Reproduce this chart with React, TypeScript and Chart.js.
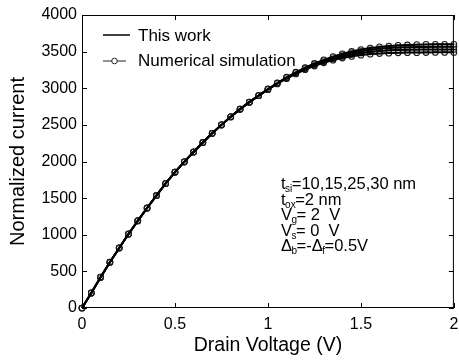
import React, { useEffect, useRef } from "react";
import { Chart, registerables } from "chart.js";

Chart.register(...registerables);

const voltages = [
  0, 0.05, 0.1, 0.15, 0.2, 0.25, 0.3, 0.35, 0.4, 0.45, 0.5, 0.55, 0.6, 0.65, 0.7, 0.75, 0.8, 0.85, 0.9, 0.95,
  1.0, 1.05, 1.1, 1.15, 1.2, 1.25, 1.3, 1.35, 1.4, 1.45, 1.5, 1.55, 1.6, 1.65, 1.7, 1.75, 1.8, 1.85, 1.9, 1.95, 2.0,
];

const model30 = [
  0, 205, 420, 625, 820, 1010, 1190, 1365, 1535, 1700, 1855, 1995, 2130, 2260, 2385, 2500, 2610, 2715, 2810, 2900,
  2990, 3072, 3150, 3218, 3280, 3338, 3388, 3432, 3470, 3502, 3528, 3548, 3564, 3576, 3585, 3591, 3595, 3598, 3599, 3600, 3600,
];
const model25 = [
  0, 205, 420, 625, 820, 1010, 1190, 1365, 1535, 1700, 1855, 1995, 2130, 2260, 2385, 2500, 2610, 2715, 2810, 2900,
  2988, 3068, 3145, 3212, 3273, 3328, 3376, 3418, 3454, 3484, 3508, 3527, 3541, 3551, 3557, 3561, 3563, 3564, 3565, 3565, 3565,
];
const model15 = [
  0, 205, 420, 625, 820, 1010, 1190, 1365, 1535, 1700, 1855, 1995, 2130, 2260, 2385, 2500, 2610, 2715, 2810, 2900,
  2985, 3065, 3140, 3205, 3265, 3318, 3364, 3403, 3436, 3462, 3482, 3498, 3510, 3518, 3523, 3526, 3528, 3529, 3530, 3530, 3530,
];
const model10 = [
  0, 205, 420, 625, 820, 1010, 1190, 1365, 1535, 1700, 1855, 1995, 2130, 2260, 2385, 2500, 2610, 2715, 2810, 2900,
  2982, 3060, 3133, 3197, 3255, 3305, 3349, 3385, 3414, 3437, 3454, 3466, 3475, 3481, 3485, 3487, 3488, 3489, 3490, 3490, 3490,
];

const sim30 = [
  0, 207, 422, 626, 821, 1011, 1192, 1366, 1536, 1701, 1856, 1996, 2131, 2261, 2386, 2501, 2611, 2716, 2811, 2901,
  2991, 3073, 3151, 3219, 3281, 3339, 3389, 3433, 3471, 3503, 3529, 3549, 3565, 3577, 3586, 3592, 3596, 3599, 3600, 3601, 3601,
];
const sim25 = [
  0, 206, 421, 625, 820, 1010, 1191, 1365, 1535, 1700, 1855, 1995, 2130, 2260, 2385, 2500, 2610, 2715, 2810, 2900,
  2988, 3069, 3146, 3213, 3274, 3329, 3377, 3419, 3455, 3485, 3509, 3528, 3542, 3552, 3558, 3562, 3564, 3565, 3566, 3566, 3566,
];
const sim15 = [
  0, 204, 419, 624, 819, 1009, 1189, 1364, 1534, 1699, 1854, 1994, 2129, 2259, 2384, 2499, 2609, 2714, 2809, 2899,
  2984, 3064, 3139, 3204, 3264, 3317, 3363, 3402, 3435, 3461, 3481, 3497, 3509, 3517, 3522, 3525, 3527, 3528, 3529, 3529, 3529,
];
const sim10 = [
  0, 203, 418, 623, 818, 1008, 1188, 1363, 1533, 1698, 1853, 1993, 2128, 2258, 2383, 2498, 2608, 2713, 2808, 2898,
  2980, 3058, 3131, 3195, 3253, 3303, 3347, 3383, 3412, 3435, 3452, 3464, 3473, 3479, 3483, 3485, 3486, 3487, 3488, 3488, 3488,
];

const modelSeries = [model30, model25, model15, model10];
const simSeries = [sim30, sim25, sim15, sim10];

const legendLabels = ["This work", "Numerical simulation"];
const xTitle = "Drain Voltage (V)";
const yTitle = "Normalized current";

// annotation lines: [text, isSubscript]
const noteLines: [string, boolean][][] = [
  [["t", false], ["si", true], ["=10,15,25,30 nm", false]],
  [["t", false], ["ox", true], ["=2 nm", false]],
  [["V", false], ["g", true], ["= 2  V", false]],
  [["V", false], ["s", true], ["= 0  V", false]],
  [["Δ", false], ["b", true], ["=-Δ", false], ["f", true], ["=0.5V", false]],
];

const FONT = '"Liberation Sans", Arial, Helvetica, sans-serif';

const framePlugin = {
  id: "frame",
  afterDraw(chart: any) {
    const { ctx, chartArea, scales } = chart;
    const { left, right, top, bottom } = chartArea;
    ctx.save();
    ctx.strokeStyle = "#000";
    ctx.lineWidth = 1;
    ctx.strokeRect(left + 0.5, top + 0.5, right - left - 1, bottom - top - 1);
    const tl = 5;
    ctx.beginPath();
    scales.x.ticks.forEach((t: any) => {
      const px = Math.round(scales.x.getPixelForValue(t.value)) + 0.5;
      ctx.moveTo(px, bottom);
      ctx.lineTo(px, bottom - tl);
      ctx.moveTo(px, top);
      ctx.lineTo(px, top + tl);
    });
    scales.y.ticks.forEach((t: any) => {
      const py = Math.round(scales.y.getPixelForValue(t.value)) + 0.5;
      ctx.moveTo(left, py);
      ctx.lineTo(left + tl, py);
      ctx.moveTo(right, py);
      ctx.lineTo(right - tl, py);
    });
    ctx.stroke();

    // legend
    ctx.font = `17px ${FONT}`;
    ctx.fillStyle = "#000";
    ctx.textBaseline = "middle";
    ctx.textAlign = "left";
    ctx.lineWidth = 1.5;
    ctx.beginPath();
    ctx.moveTo(103, 35);
    ctx.lineTo(130, 35);
    ctx.stroke();
    ctx.fillText(legendLabels[0], 138, 36);
    ctx.lineWidth = 1;
    ctx.strokeStyle = "#222";
    ctx.beginPath();
    ctx.moveTo(103, 61);
    ctx.lineTo(126, 61);
    ctx.stroke();
    ctx.beginPath();
    ctx.fillStyle = "#fff";
    ctx.arc(114.5, 61, 2.8, 0, Math.PI * 2);
    ctx.fill();
    ctx.stroke();
    ctx.fillStyle = "#000";
    ctx.fillText(legendLabels[1], 138, 61);

    // annotation
    ctx.textBaseline = "alphabetic";
    const x0 = 281;
    const baselines = [189, 204.5, 220, 235.5, 251];
    noteLines.forEach((parts, i) => {
      let x = x0;
      parts.forEach(([txt, sub]) => {
        if (sub) {
          ctx.font = `10px ${FONT}`;
          ctx.fillText(txt, x - 0.5, baselines[i] + 3);
          x += ctx.measureText(txt).width - 1;
        } else {
          ctx.font = `16.5px ${FONT}`;
          ctx.fillText(txt, x, baselines[i]);
          x += ctx.measureText(txt).width;
        }
      });
    });
    ctx.restore();
  },
};

export default function App() {
  const ref = useRef<HTMLCanvasElement | null>(null);
  useEffect(() => {
    document.body.style.margin = "0";
    const canvas = ref.current!;
    const datasets: any[] = [];
    modelSeries.forEach((s, i) => {
      datasets.push({
        label: legendLabels[0] + " " + i,
        data: voltages.map((v, j) => ({ x: v, y: s[j] })),
        borderColor: "#000",
        borderWidth: 2,
        pointRadius: 0,
        fill: false,
        clip: false,
      });
    });
    simSeries.forEach((s, i) => {
      datasets.push({
        label: legendLabels[1] + " " + i,
        data: voltages.map((v, j) => ({ x: v, y: s[j] })),
        borderColor: "#1a1a1a",
        borderWidth: 1,
        pointRadius: 2.8,
        pointBorderWidth: 1.1,
        pointBorderColor: "#1a1a1a",
        pointBackgroundColor: "rgba(255,255,255,0.4)",
        fill: false,
        clip: false,
      });
    });
    const chart = new Chart(canvas, {
      type: "line",
      data: { datasets },
      options: {
        animation: false,
        responsive: false,
        devicePixelRatio: 1,
        layout: { padding: { top: 15, right: 4, left: 0, bottom: 0 } },
        plugins: { legend: { display: false }, tooltip: { enabled: false } },
        scales: {
          x: {
            type: "linear",
            min: 0,
            max: 2,
            ticks: {
              stepSize: 0.5,
              color: "#000",
              font: { family: FONT, size: 16 },
              padding: 7,
              maxRotation: 0,
              callback: (v: any) => String(v),
            },
            grid: { display: false, drawTicks: false },
            border: { display: false },
            title: {
              display: true,
              text: xTitle,
              color: "#000",
              font: { family: FONT, size: 19.5 },
              padding: { top: 0, bottom: 5 },
            },
            afterFit: (s: any) => {
              s.height = 54;
              s.paddingLeft = 0;
              s.paddingRight = 0;
            },
          },
          y: {
            type: "linear",
            min: 0,
            max: 4000,
            ticks: {
              stepSize: 500,
              color: "#000",
              font: { family: FONT, size: 16 },
              padding: 5,
              callback: (v: any) => String(v),
            },
            grid: { display: false, drawTicks: false },
            border: { display: false },
            title: {
              display: true,
              text: yTitle,
              color: "#000",
              font: { family: FONT, size: 20 },
              padding: { top: 6, bottom: 0 },
            },
            afterFit: (s: any) => {
              s.width = 82;
              s.paddingTop = 0;
              s.paddingBottom = 0;
            },
          },
        },
      },
      plugins: [framePlugin],
    });
    return () => chart.destroy();
  }, []);
  return <canvas ref={ref} width={459} height={362} style={{ display: "block" }} />;
}
